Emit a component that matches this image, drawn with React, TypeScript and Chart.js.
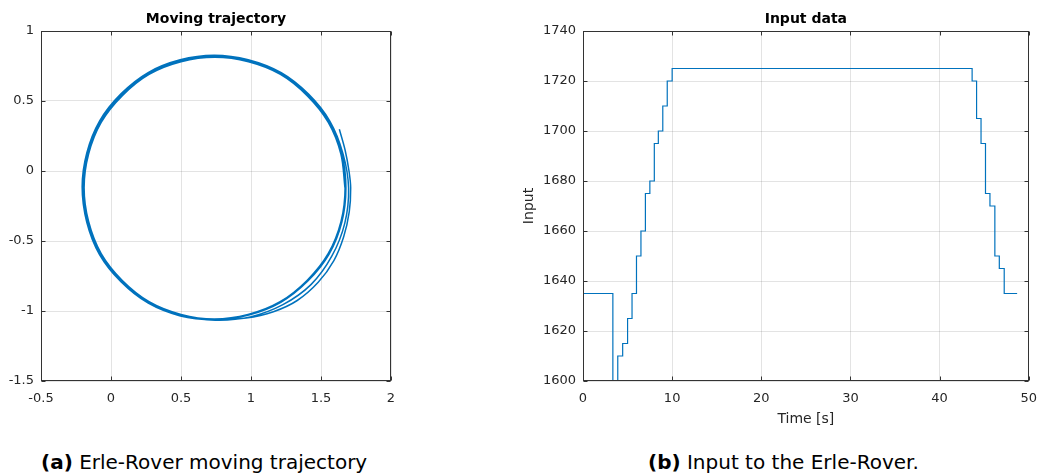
import React, { useEffect, useRef } from 'react';
import { Chart, registerables } from 'chart.js';

Chart.register(...registerables);

// ---------- Data: (a) moving trajectory (x, y in metres) ----------
const trajX = [
  1.631, 1.672, 1.700, 1.712, 1.702, 1.662, 1.592, 1.480, 1.330, 1.160, 0.965, 0.741,
  0.496, 0.266, 0.071, -0.082, -0.173, -0.205, -0.173, -0.082, 0.071, 0.266, 0.496, 0.741,
  0.986, 1.216, 1.411, 1.564, 1.657, 1.697, 1.670, 1.578, 1.430, 1.228, 0.995, 0.745,
  0.498, 0.269, 0.076, -0.076, -0.167, -0.199, -0.167, -0.076, 0.076, 0.269, 0.498, 0.741,
  0.984, 1.213, 1.406, 1.558, 1.649, 1.678, 1.649, 1.558, 1.406, 1.213, 0.984, 0.741,
  0.494, 0.264, 0.070, -0.083, -0.174, -0.206, -0.173, -0.081, 0.071, 0.265, 0.494, 0.737,
  0.980, 1.209, 1.402, 1.553, 1.644, 1.672, 1.643, 1.552, 1.400, 1.208, 0.979, 0.737,
  0.500, 0.272, 0.081, -0.070, -0.160, -0.192, -0.160, -0.070, 0.081, 0.272, 0.500, 0.741,
  0.982, 1.210, 1.401, 1.552, 1.642, 1.671,
];
const trajY = [
  0.298, 0.150, 0.000, -0.121, -0.290, -0.470, -0.640, -0.795, -0.925, -1.005, -1.050, -1.064,
  -1.035, -0.944, -0.791, -0.597, -0.366, -0.121, 0.124, 0.355, 0.549, 0.702, 0.793, 0.825,
  0.793, 0.702, 0.549, 0.355, 0.124, -0.121, -0.372, -0.607, -0.810, -0.955, -1.042, -1.066,
  -1.029, -0.938, -0.786, -0.593, -0.364, -0.121, 0.122, 0.351, 0.544, 0.696, 0.787, 0.819,
  0.787, 0.696, 0.544, 0.351, 0.122, -0.121, -0.364, -0.593, -0.786, -0.938, -1.029, -1.061,
  -1.026, -0.934, -0.781, -0.587, -0.357, -0.114, 0.129, 0.358, 0.551, 0.703, 0.794, 0.826,
  0.794, 0.703, 0.550, 0.356, 0.126, -0.117, -0.360, -0.589, -0.782, -0.934, -1.025, -1.057,
  -1.024, -0.933, -0.782, -0.590, -0.361, -0.119, 0.121, 0.347, 0.538, 0.690, 0.780, 0.812,
  0.780, 0.690, 0.538, 0.347, 0.121, -0.119,
];
const trajXTicks = [-0.5, 0, 0.5, 1, 1.5, 2];
const trajYTicks = [-1.5, -1, -0.5, 0, 0.5, 1];

// ---------- Data: (b) input over time ----------
const timeS = [0, 3.35, 3.9, 4.45, 5.0, 5.5, 6.0, 6.5, 7.0, 7.5, 8.0, 8.45, 8.95, 9.45, 10.0,
  43.65, 44.15, 44.65, 45.15, 45.65, 46.2, 46.7, 47.25, 48.7];
const inputVals = [1635, 1590, 1610, 1615, 1625, 1635, 1650, 1660, 1675, 1680, 1695, 1700, 1710, 1720, 1725,
  1720, 1705, 1695, 1675, 1670, 1650, 1645, 1635, 1635];
const timeTicks = [0, 10, 20, 30, 40, 50];
const inputTicks = [1600, 1620, 1640, 1660, 1680, 1700, 1720, 1740];

const titleA = 'Moving trajectory';
const titleB = 'Input data';
const xLabelB = 'Time [s]';
const yLabelB = 'Input';
const captionA = ['(a)', 'Erle-Rover moving trajectory'];
const captionB = ['(b)', 'Input to the Erle-Rover.'];

// ---------- Styles ----------
const FONT = '"DejaVu Sans", "Liberation Sans", sans-serif';
const TEXT = '#262626';
const GRID = 'rgba(38,38,38,0.13)';
const LINE = '#0072BD';

const boxPlugin = {
  id: 'matlabBox',
  afterDraw(chart: any) {
    const { ctx, chartArea: a, scales } = chart;
    const L = Math.round(a.left) + 0.5;
    const R = Math.round(a.right) - 0.5;
    const T = Math.round(a.top) + 0.5;
    const B = Math.round(a.bottom) - 0.5;
    ctx.save();
    ctx.strokeStyle = '#333333';
    ctx.lineWidth = 1;
    ctx.strokeRect(L, T, R - L, B - T);
    const len = 4;
    ctx.beginPath();
    scales.x.ticks.forEach((t: any) => {
      const p = Math.round(scales.x.getPixelForValue(t.value)) + 0.5;
      ctx.moveTo(p, B); ctx.lineTo(p, B - len);
      ctx.moveTo(p, T); ctx.lineTo(p, T + len);
    });
    scales.y.ticks.forEach((t: any) => {
      const p = Math.round(scales.y.getPixelForValue(t.value)) + 0.5;
      ctx.moveTo(L, p); ctx.lineTo(L + len, p);
      ctx.moveTo(R, p); ctx.lineTo(R - len, p);
    });
    ctx.stroke();
    ctx.restore();
  },
};

function axis(min: number, max: number, ticks: number[], fit: (s: any) => void, pad: number, extra: any = {}) {
  return {
    type: 'linear',
    min,
    max,
    afterBuildTicks: (s: any) => { s.ticks = ticks.map((v) => ({ value: v })); },
    afterFit: fit,
    ticks: {
      callback: (v: any) => String(v),
      font: { family: FONT, size: 13 },
      color: TEXT,
      padding: pad,
      maxRotation: 0,
      autoSkip: false,
    },
    grid: { color: GRID, drawTicks: false, lineWidth: 1 },
    border: { display: false },
    ...extra,
  };
}

function titleOpts(text: string) {
  return {
    display: true,
    text,
    fullSize: false,
    color: '#000',
    font: { family: FONT, size: 14, weight: 'bold' },
    padding: { top: 11, bottom: 3.2 },
  };
}

export default function App() {
  const c1 = useRef<HTMLCanvasElement>(null);
  const c2 = useRef<HTMLCanvasElement>(null);

  useEffect(() => {
    const trajPts = trajX.map((x, i) => ({ x, y: trajY[i] }));
    const inPts = timeS.map((x, i) => ({ x, y: inputVals[i] }));

    const ch1 = new Chart(c1.current as HTMLCanvasElement, {
      type: 'scatter',
      data: {
        datasets: [{
          data: trajPts,
          showLine: true,
          pointRadius: 0,
          borderColor: LINE,
          borderWidth: 1.5,
          tension: 0.34,
          fill: false,
        }],
      },
      options: {
        responsive: false,
        animation: false,
        layout: { padding: { left: 0, top: 0, right: 39, bottom: 0 } },
        plugins: { legend: { display: false }, tooltip: { enabled: false }, title: titleOpts(titleA) as any },
        scales: {
          x: axis(-0.5, 2, trajXTicks, (s) => { s.height = 49; }, 10) as any,
          y: axis(-1.5, 1, trajYTicks, (s) => { s.width = 41; }, 7) as any,
        },
      },
      plugins: [boxPlugin],
    });

    const ch2 = new Chart(c2.current as HTMLCanvasElement, {
      type: 'line',
      data: {
        datasets: [{
          data: inPts,
          stepped: 'before',
          pointRadius: 0,
          borderColor: LINE,
          borderWidth: 1.2,
          fill: false,
        }],
      },
      options: {
        responsive: false,
        animation: false,
        layout: { padding: { left: 0, top: 0, right: 14, bottom: 0 } },
        plugins: { legend: { display: false }, tooltip: { enabled: false }, title: titleOpts(titleB) as any },
        scales: {
          x: axis(0, 50, timeTicks, (s) => { s.height = 49; }, 10, {
            title: { display: true, text: xLabelB, color: TEXT, font: { family: FONT, size: 14 }, padding: { top: 0, bottom: 2.6 } },
          }) as any,
          y: axis(1600, 1740, inputTicks, (s) => { s.width = 83; }, 7, {
            title: { display: true, text: yLabelB, color: TEXT, font: { family: FONT, size: 14 }, padding: { top: 21.3, bottom: 0 } },
          }) as any,
        },
      },
      plugins: [boxPlugin],
    });

    return () => { ch1.destroy(); ch2.destroy(); };
  }, []);

  const cap = (left: number): React.CSSProperties => ({
    position: 'absolute',
    left,
    top: 452,
    fontFamily: '"DejaVu Sans", sans-serif',
    fontSize: 20,
    lineHeight: '20px',
    whiteSpace: 'nowrap',
    color: '#000',
  });

  return (
    <div style={{ position: 'fixed', left: 0, top: 0, width: 1047, height: 473, background: '#fff', overflow: 'hidden' }}>
      <canvas ref={c1} width={430} height={430} style={{ position: 'absolute', left: 0, top: 0, width: 430, height: 430 }} />
      <canvas ref={c2} width={547} height={430} style={{ position: 'absolute', left: 500, top: 0, width: 547, height: 430 }} />
      <div style={cap(41)}><b>{captionA[0]}</b> {captionA[1]}</div>
      <div style={cap(648)}><b>{captionB[0]}</b> {captionB[1]}</div>
    </div>
  );
}
